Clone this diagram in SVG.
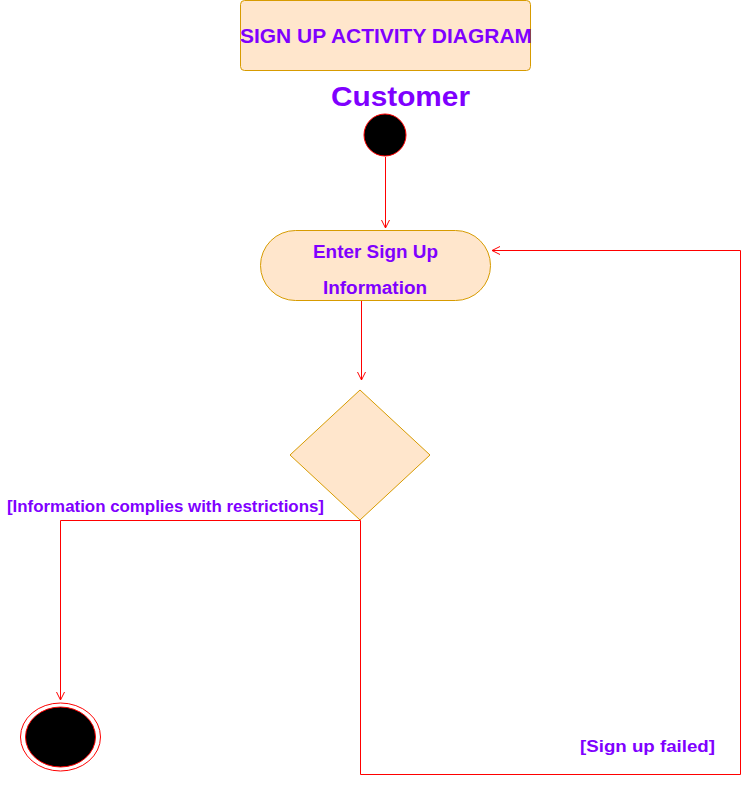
<svg xmlns="http://www.w3.org/2000/svg" width="751" height="786" viewBox="0 0 751 786">
<style>
.box{fill:#ffe6cc;stroke:#d79b00;stroke-width:1}
.t{font-family:"Liberation Sans",Arial,sans-serif;font-weight:bold;fill:#7f00ff}
.c{fill:none;stroke:#ff0000;stroke-width:1}
</style>
<defs>
<marker id="arr" markerWidth="12" markerHeight="12" refX="10" refY="6" orient="auto" markerUnits="userSpaceOnUse">
<path d="M2,2 L10,6 L2,10" fill="none" stroke="#ff0000" stroke-width="1"/>
</marker>
</defs>
<rect width="751" height="786" fill="#ffffff"/>
<g id="title">
<rect class="box" x="240.5" y="0.5" width="290" height="70" rx="4"/>
<text class="t" x="240" y="43" font-size="20" textLength="292" lengthAdjust="spacingAndGlyphs">SIGN UP ACTIVITY DIAGRAM</text>
</g>
<g id="customer-label">
<text class="t" x="331" y="106" font-size="28" textLength="139" lengthAdjust="spacingAndGlyphs">Customer</text>
</g>
<g id="start">
<circle cx="385" cy="135" r="21" fill="#000000" stroke="#ff0000" stroke-width="1"/>
</g>
<g id="enter-info">
<rect class="box" x="260.5" y="230.5" width="230" height="70" rx="35"/>
<text class="t" x="313" y="258" font-size="18" textLength="125" lengthAdjust="spacingAndGlyphs">Enter Sign Up</text>
<text class="t" x="323" y="294" font-size="18" textLength="104" lengthAdjust="spacingAndGlyphs">Information</text>
</g>
<g id="decision">
<polygon class="box" points="360,390 430,455 360,520 290,455"/>
</g>
<g id="end">
<ellipse cx="60.5" cy="737" rx="40" ry="34" fill="none" stroke="#ff0000" stroke-width="1"/>
<ellipse cx="60.5" cy="737" rx="35" ry="30" fill="#000000" stroke="#ff0000" stroke-width="1"/>
</g>
<g id="connectors">
<path class="c" d="M385.5,157 L385.5,228" marker-end="url(#arr)"/>
<path class="c" d="M361.5,301 L361.5,380" marker-end="url(#arr)"/>
<path class="c" d="M360.5,520.5 L60.5,520.5 L60.5,700" marker-end="url(#arr)"/>
<path class="c" d="M360.5,520.5 L360.5,774.5 L740.5,774.5 L740.5,250.5 L492,250.5" marker-end="url(#arr)"/>
</g>
<g id="labels">
<text class="t" x="7" y="512" font-size="16" textLength="317" lengthAdjust="spacingAndGlyphs">[Information complies with restrictions]</text>
<text class="t" x="580" y="752" font-size="17" textLength="135" lengthAdjust="spacingAndGlyphs">[Sign up failed]</text>
</g>
</svg>
